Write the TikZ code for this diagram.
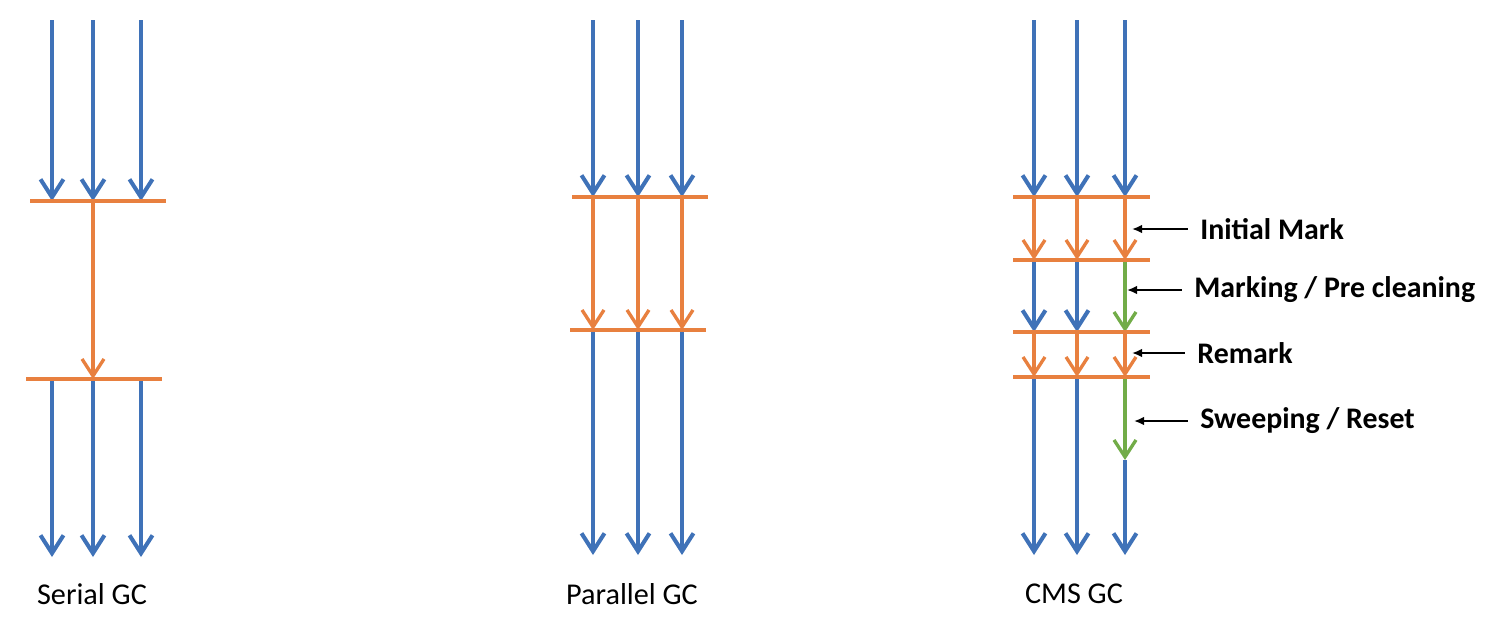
\documentclass[tikz,border=0pt]{standalone}
\usepackage{fontspec}
\setmainfont{Carlito}
\usepackage{xcolor}
\usetikzlibrary{arrows.meta, positioning}
\definecolor{gcblue}{HTML}{3F72B8}
\definecolor{gcorange}{HTML}{E8803F}
\definecolor{gcgreen}{HTML}{72AC48}

\begin{document}
\begin{tikzpicture}[x=0.02cm, y=-0.02cm,
    thread/.style={draw=gcblue, line width=2.3pt, -{Straight Barb[length=3.6mm, width=4.6mm]}},
    gcwork/.style={draw=gcorange, line width=1.9pt, -{Straight Barb[length=3.4mm, width=4.4mm]}},
    concur/.style={draw=gcgreen, line width=1.9pt, -{Straight Barb[length=3.4mm, width=4.4mm]}},
    safepoint/.style={draw=gcorange, line width=2.3pt},
    pointer/.style={draw=black, line width=1pt, -{Latex[length=2mm, width=1.7mm]}, shorten <=7pt},
    caption/.style={font=\fontsize{17.2}{20}\selectfont},
    phase/.style={font=\fontsize{17}{20}\selectfont\bfseries, anchor=west, inner sep=0pt}]
  \useasboundingbox (0,0) rectangle (1490,630);

  % Serial GC
  \foreach \x/\n in {52/1, 93/2, 141/3} {
    \coordinate (s\n-top) at (\x,20);
    \coordinate (s\n-a) at (\x,201);
    \coordinate (s\n-b) at (\x,379);
    \coordinate (s\n-end) at (\x,557);
    \draw[thread] (s\n-top) -- (s\n-a);
    \draw[thread] (s\n-b) -- (s\n-end);
  }
  \coordinate (s-bar1w) at (30,201);  \coordinate (s-bar1e) at (166,201);
  \coordinate (s-bar2w) at (26,379);  \coordinate (s-bar2e) at (162,379);
  \draw[safepoint] (s-bar1w) -- (s-bar1e);
  \draw[safepoint] (s-bar2w) -- (s-bar2e);
  \draw[gcwork] (s2-a) -- (s2-b);
  \node[caption] (serial) at (92,594) {Serial GC};

  % Parallel GC
  \foreach \x/\n in {593/1, 638/2, 682/3} {
    \coordinate (p\n-top) at (\x,20);
    \coordinate (p\n-a) at (\x,197);
    \coordinate (p\n-b) at (\x,330);
    \coordinate (p\n-end) at (\x,555);
    \draw[thread] (p\n-top) -- (p\n-a);
    \draw[gcwork] (p\n-a) -- (p\n-b);
    \draw[thread] (p\n-b) -- (p\n-end);
  }
  \coordinate (p-bar1w) at (572,197);  \coordinate (p-bar1e) at (708,197);
  \coordinate (p-bar2w) at (570,330);  \coordinate (p-bar2e) at (706,330);
  \draw[safepoint] (p-bar1w) -- (p-bar1e);
  \draw[safepoint] (p-bar2w) -- (p-bar2e);
  \node[caption] (parallel) at (632,594) {Parallel GC};

  % CMS GC
  \foreach \x/\n in {1034/1, 1077/2, 1125/3} {
    \coordinate (c\n-top) at (\x,20);
    \coordinate (c\n-a) at (\x,197);
    \coordinate (c\n-b) at (\x,260);
    \coordinate (c\n-c) at (\x,332);
    \coordinate (c\n-d) at (\x,377);
    \coordinate (c\n-end) at (\x,555);
    \draw[thread] (c\n-top) -- (c\n-a);
    \draw[gcwork] (c\n-a) -- (c\n-b);
    \draw[gcwork] (c\n-c) -- (c\n-d);
  }
  \foreach \n in {1,2} {
    \draw[thread] (c\n-b) -- (c\n-c);
    \draw[thread] (c\n-d) -- (c\n-end);
  }
  \coordinate (c3-sweep) at (1125,460);
  \draw[concur] (c3-b) -- (c3-c);
  \draw[concur] (c3-d) -- (c3-sweep);
  \draw[thread] (c3-sweep) -- (c3-end);
  \foreach \y/\n in {197/1, 260/2, 332/3, 377/4} {
    \coordinate (c-bar\n w) at (1013,\y);
    \coordinate (c-bar\n e) at (1150,\y);
    \draw[safepoint] (c-bar\n w) -- (c-bar\n e);
  }
  \node[caption] (cms) at (1074,594) {CMS GC};

  % phase labels
  \node[phase] (initial) at (1200,229) {Initial Mark};
  \node[phase] (marking) at (1194,290) {Marking / Pre cleaning};
  \node[phase] (remark) at (1197,353) {Remark};
  \node[phase] (sweeping) at (1200,421) {Sweeping / Reset};
  \coordinate (initial-tip) at (1132,229);
  \coordinate (marking-tip) at (1127,290);
  \coordinate (remark-tip) at (1132,353);
  \coordinate (sweeping-tip) at (1134,421);
  \foreach \p in {initial, marking, remark, sweeping}
    \draw[pointer] (\p.west) -- (\p-tip);
\end{tikzpicture}
\end{document}
